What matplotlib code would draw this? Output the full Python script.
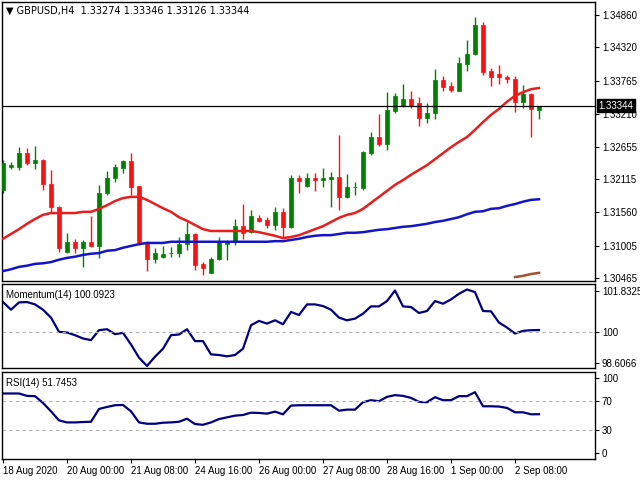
import matplotlib
matplotlib.use("Agg")
import matplotlib.pyplot as plt
import numpy as np

plt.rcParams['font.family'] = ['Liberation Sans', 'DejaVu Sans']

opens = [1.3194,1.3232,1.3232,1.3255,1.3239,1.3244,1.3204,1.3165,1.3090,1.3107,
         1.3097,1.3107,1.3100,1.3189,1.3214,1.3230,1.3242,1.3200,1.3107,1.3078,
         1.3082,1.3088,1.3088,1.3103,1.3120,1.3070,1.3055,1.3078,1.3103,1.3108,
         1.3133,1.3123,1.3147,1.3143,1.3135,1.3157,1.3132,1.3214,1.3200,1.3214,
         1.3210,1.3212,1.3215,1.3182,1.3198,1.3197,1.3255,1.3282,1.3270,1.3326,
         1.3334,1.3346,1.3339,1.3314,1.3322,1.3377,1.3367,1.3359,1.3404,1.3421,
         1.3469,1.3392,1.3387,1.3382,1.3379,1.3341,1.3354,1.33274]
highs = [1.3244,1.3241,1.3265,1.3263,1.3267,1.3245,1.3227,1.3166,1.3122,1.3112,
         1.3110,1.3150,1.3202,1.3225,1.3237,1.3243,1.3255,1.3201,1.3108,1.3097,
         1.3100,1.3098,1.3115,1.3140,1.3122,1.3073,1.3082,1.3115,1.3110,1.3145,
         1.3170,1.3160,1.3152,1.3148,1.3165,1.3163,1.3219,1.3219,1.3222,1.3222,
         1.3230,1.3224,1.3285,1.3220,1.3207,1.3259,1.3290,1.3321,1.3357,1.3356,
         1.3371,1.3359,1.3349,1.3339,1.3396,1.3384,1.3374,1.3416,1.3444,1.3483,
         1.3474,1.3397,1.3402,1.3386,1.3384,1.3369,1.3356,1.33346]
lows = [1.3189,1.3229,1.3227,1.3235,1.3229,1.3194,1.3155,1.3090,1.3088,1.3088,
        1.3065,1.3098,1.3080,1.3185,1.3207,1.3222,1.3185,1.3102,1.3058,1.3072,
        1.3080,1.3082,1.3082,1.3093,1.3060,1.3052,1.3055,1.3077,1.3077,1.3102,
        1.3112,1.3122,1.3140,1.3130,1.3127,1.3115,1.3130,1.3189,1.3199,1.3192,
        1.3199,1.3165,1.3160,1.3180,1.3185,1.3194,1.3252,1.3267,1.3260,1.3322,
        1.3332,1.3331,1.3301,1.3305,1.3312,1.3359,1.3357,1.3359,1.3392,1.3419,
        1.3386,1.3367,1.3371,1.3372,1.3324,1.3331,1.3282,1.33126]
closes = [1.3239,1.3235,1.3255,1.3239,1.3244,1.3204,1.3165,1.3097,1.3107,1.3097,
          1.3107,1.3100,1.3189,1.3214,1.3232,1.3242,1.3199,1.3107,1.3078,1.3088,
          1.3087,1.3089,1.3103,1.3120,1.3068,1.3063,1.3078,1.3107,1.3108,1.3133,
          1.3122,1.3150,1.3142,1.3135,1.3157,1.3132,1.3214,1.3209,1.3214,1.3210,
          1.3214,1.3215,1.3182,1.3199,1.3199,1.3257,1.3282,1.3270,1.3327,1.3351,
          1.3346,1.3334,1.3314,1.3322,1.3377,1.3366,1.3361,1.3406,1.3421,1.3469,
          1.3391,1.3382,1.3382,1.3379,1.3341,1.3354,1.3329,1.33344]

ma_fast = [1.3112,1.3120,1.3128,1.3137,1.3145,1.3152,1.3155,1.3155,1.3155,1.3155,
           1.3157,1.3157,1.3162,1.3168,1.3175,1.3180,1.3182,1.3182,1.3177,1.3170,
           1.3163,1.3157,1.3148,1.3142,1.3135,1.3128,1.3125,1.3125,1.3125,1.3125,
           1.3125,1.3125,1.3123,1.3120,1.3117,1.3113,1.3115,1.3118,1.3123,1.3128,
           1.3133,1.3140,1.3147,1.3152,1.3155,1.3162,1.3172,1.3182,1.3192,1.3202,
           1.3210,1.3219,1.3227,1.3235,1.3245,1.3255,1.3265,1.3274,1.3282,1.3294,
           1.3307,1.3319,1.3329,1.3341,1.3351,1.3357,1.3362,1.3364]
ma_slow = [1.3058,1.3061,1.3065,1.3067,1.3070,1.3071,1.3073,1.3077,1.3080,1.3082,
           1.3085,1.3087,1.3088,1.3092,1.3093,1.3097,1.3100,1.3103,1.3105,1.3105,
           1.3105,1.3107,1.3107,1.3107,1.3107,1.3107,1.3107,1.3107,1.3107,1.3107,
           1.3107,1.3107,1.3107,1.3107,1.3108,1.3108,1.3110,1.3112,1.3115,1.3117,
           1.3118,1.3118,1.3120,1.3122,1.3122,1.3123,1.3125,1.3127,1.3128,1.3130,
           1.3132,1.3133,1.3135,1.3137,1.3140,1.3142,1.3145,1.3148,1.3153,1.3157,
           1.3158,1.3162,1.3163,1.3167,1.3170,1.3174,1.3177,1.3178]
ma_long_idx = [64, 65, 66, 67]
ma_long = [1.3048, 1.3050, 1.3053, 1.3055]

momentum = [101.355,101.011,101.340,101.355,101.250,101.011,100.653,100.011,99.981,99.861,
            99.712,99.637,100.085,100.130,99.906,99.966,99.443,98.846,98.473,98.891,
            99.249,99.861,99.891,100.130,99.593,99.593,98.995,98.966,98.906,98.966,
            99.249,100.309,100.504,100.384,100.533,100.354,100.907,100.772,101.250,101.250,
            101.175,101.011,100.653,100.533,100.608,100.832,101.160,101.160,101.400,101.877,
            101.160,101.131,100.862,100.952,101.400,101.280,101.474,101.728,101.922,101.803,
            100.952,100.937,100.429,100.205,99.936,100.056,100.085,100.0923]
rsi = [79.6,79.6,79.6,76.4,76.0,66.9,55.6,43.4,40.7,40.7,
       41.2,41.6,58.8,61.5,63.8,64.2,55.6,40.7,38.9,38.9,
       40.3,40.7,41.6,45.7,38.5,37.5,40.7,45.2,47.5,49.8,
       50.7,53.8,53.4,52.5,55.2,51.6,63.3,63.8,63.8,63.8,
       63.8,63.8,56.5,57.9,57.9,67.9,70.6,69.2,75.1,77.4,
       76.4,73.7,68.3,67.9,74.6,70.6,70.6,76.0,76.0,81.4,
       62.4,62.4,62.0,60.2,54.3,54.3,51.6,51.7453]

price_ticks = [1.34860,1.34320,1.33765,1.33210,1.32655,1.32115,1.31560,1.31005,1.30465]
mom_ticks = [98.6066, 100, 101.8325]
rsi_ticks = [0, 30, 70, 100]
time_tick_idx = [0, 8, 16, 24, 32, 40, 48, 56, 64]
time_labels = ["18 Aug 2020","20 Aug 00:00","21 Aug 08:00","24 Aug 16:00","26 Aug 00:00",
               "27 Aug 08:00","28 Aug 16:00","1 Sep 00:00","2 Sep 08:00"]
header = "GBPUSD,H4  1.33274 1.33346 1.33126 1.33344"
last_price = 1.33344

GREEN = "#008000"; RED = "#ff1010"
W, H = 640, 480
fig = plt.figure(figsize=(6.4, 4.8), dpi=100)
def box(top, bottom):
    return [2/W, (H-bottom)/H, 593/W, (bottom-top)/H]
ax = fig.add_axes(box(2, 281))
axm = fig.add_axes(box(284, 368))
axr = fig.add_axes(box(372, 459))
xl = (-0.125, 74)
n = len(opens)
x = np.arange(n)

for i in range(n):
    c = GREEN if closes[i] >= opens[i] else RED
    ax.vlines(x[i], lows[i], highs[i], color=c, lw=1, zorder=2)
    lo, hi = min(opens[i], closes[i]), max(opens[i], closes[i])
    ax.bar(x[i], max(hi-lo, 0.00004), bottom=lo, width=0.62, color=c, edgecolor=c, lw=0.5, zorder=3)
ax.plot(x, ma_fast, color="#e61e1e", lw=1.8, zorder=4)
ax.plot(x, ma_slow, color="#1414c8", lw=1.8, zorder=4)
ax.plot(ma_long_idx, ma_long, color="#a0522d", lw=1.8, zorder=4)
ax.axhline(last_price, color="black", lw=0.9, zorder=5)
ax.set_xlim(*xl)
ax.set_ylim(1.30414, 1.35077)
ax.yaxis.tick_right()
ax.set_yticks(price_ticks)
ax.set_yticklabels([f"{t:.5f}" for t in price_ticks])
ax.set_xticks([])
ax.text(0.006, 0.985, "\u25bc " + header, transform=ax.transAxes, fontsize=7,
        va="top", ha="left", family=['DejaVu Sans'])
ax.text(1.006, last_price, f"{last_price:.5f}", transform=ax.get_yaxis_transform(), fontsize=7,
        color="white", va="center", ha="left",
        bbox=dict(boxstyle="square,pad=0.15", fc="black", ec="black"), zorder=10)

axm.plot(x, momentum, color="#000080", lw=1.6)
axm.axhline(100, color="#b0b0b0", lw=0.8, ls=(0, (3, 3)))
axm.set_xlim(*xl)
axm.set_ylim(98.38, 102.17)
axm.yaxis.tick_right()
axm.set_yticks(mom_ticks)
axm.set_yticklabels(["98.6066", "100", "101.8325"])
axm.set_xticks([])
axm.text(0.006, 0.93, "Momentum(14) 100.0923", transform=axm.transAxes, fontsize=7, va="top")

axr.plot(x, rsi, color="#000080", lw=1.6)
for lv in (30, 70):
    axr.axhline(lv, color="#b0b0b0", lw=0.8, ls=(0, (3, 3)))
axr.set_xlim(*xl)
axr.set_ylim(-8.5, 108.5)
axr.yaxis.tick_right()
axr.set_yticks(rsi_ticks)
axr.set_xticks(time_tick_idx)
axr.set_xticklabels(time_labels, ha="left")
axr.text(0.006, 0.93, "RSI(14) 51.7453", transform=axr.transAxes, fontsize=7, va="top")

for a in (ax, axm, axr):
    a.tick_params(axis="both", labelsize=7, length=3, width=0.8, pad=2)
    for s in a.spines.values():
        s.set_linewidth(1.0)

fig.savefig("out.png", dpi=100)
